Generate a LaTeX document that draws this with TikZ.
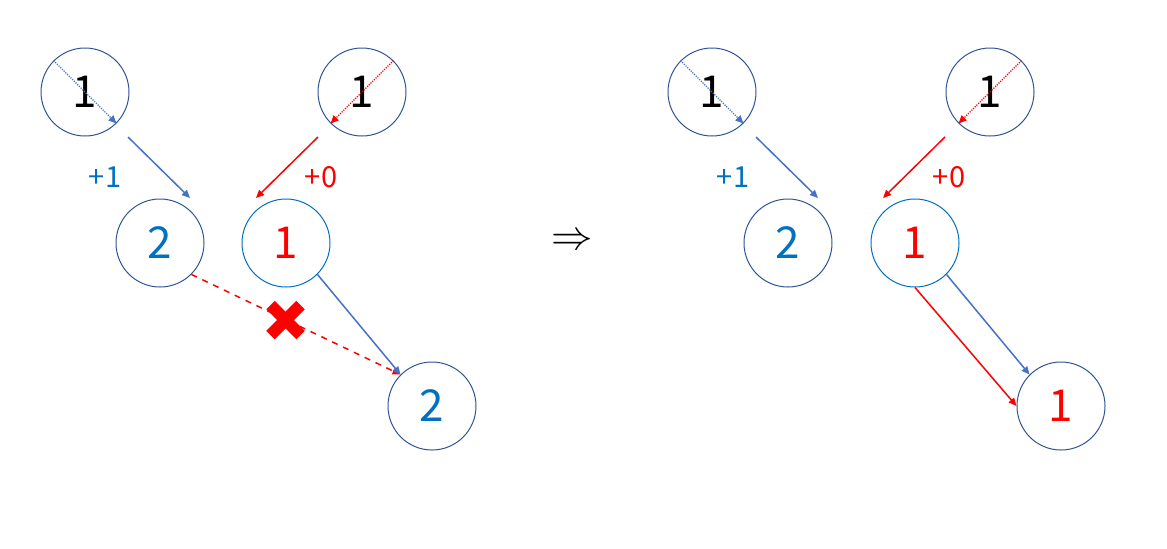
\documentclass[tikz,border=0pt]{standalone}
\usepackage{fontspec}
\setmainfont{Noto Sans CJK JP}
\usetikzlibrary{arrows.meta,calc}
\definecolor{ringblue}{HTML}{2F5597}
\definecolor{lightring}{HTML}{0070C0}
\definecolor{textblue}{HTML}{0070C0}
\definecolor{edgeblue}{HTML}{4472C4}
\definecolor{edgered}{HTML}{FF0000}
\tikzset{
  vertex/.style={circle, draw=ringblue, line width=0.5pt, minimum size=44pt,
    inner sep=0pt, font=\fontsize{22}{22}\selectfont},
  arrowline/.style={line width=0.75pt, -{Triangle[length=4pt,width=3.5pt]}},
  dotline/.style={line width=0.6pt, dash pattern=on 0.6pt off 0.6pt,
    -{Triangle[length=4pt,width=3.5pt]}},
  gain/.style={font=\fontsize{14.5}{14.5}\selectfont}
}
\begin{document}
\begin{tikzpicture}[x=0.5pt,y=-0.5pt]
\useasboundingbox (0,0) rectangle (1167,548);

% left side
\node[vertex] (a1) at (85,92) {1};
\node[vertex] (b1) at (362,92) {1};
\node[vertex, text=textblue] (c2) at (160,243) {2};
\node[vertex, draw=lightring, text=edgered] (d1) at (286,243) {1};
\node[vertex, text=textblue] (e2) at (432,406) {2};

\draw[dotline, edgeblue] (a1.135) -- (a1.-45);
\draw[dotline, edgered] (b1.45) -- (b1.225);

\coordinate (p1) at (128,137);
\coordinate (q1) at (190,198);
\coordinate (p2) at (318,137);
\coordinate (q2) at (256,198);
\draw[arrowline, edgeblue] (p1) -- (q1);
\draw[arrowline, edgered] (p2) -- (q2);
\node[gain, text=textblue] (g1) at (105,177) {+1};
\node[gain, text=edgered] (g2) at (321,177) {+0};

\draw[arrowline, edgered, dashed] (c2.-45) -- (e2.135);
\draw[arrowline, edgeblue] (d1.-45) -- (e2.135);

\coordinate (x) at (285.5,320);
\draw[edgered, line width=6pt] ($(x)+(-15,-15)$) -- ($(x)+(15,15)$);
\draw[edgered, line width=6pt] ($(x)+(-15,15)$) -- ($(x)+(15,-15)$);

\node[font=\fontsize{22}{22}\selectfont] (to) at (572,242) {$\Rightarrow$};

% right side
\node[vertex] (a1r) at (712,92) {1};
\node[vertex] (b1r) at (990,92) {1};
\node[vertex, text=textblue] (c2r) at (788,243) {2};
\node[vertex, draw=lightring, text=edgered] (d1r) at (915,243) {1};
\node[vertex, text=edgered] (e1r) at (1061,406) {1};

\draw[dotline, edgeblue] (a1r.135) -- (a1r.-45);
\draw[dotline, edgered] (b1r.45) -- (b1r.225);

\coordinate (p3) at (756,137);
\coordinate (q3) at (818,198);
\coordinate (p4) at (945,137);
\coordinate (q4) at (883,198);
\draw[arrowline, edgeblue] (p3) -- (q3);
\draw[arrowline, edgered] (p4) -- (q4);
\node[gain, text=textblue] (g3) at (733,177) {+1};
\node[gain, text=edgered] (g4) at (949,177) {+0};

\draw[arrowline, edgeblue] (d1r.-45) -- (e1r.135);
\draw[arrowline, edgered] (d1r.south) -- (e1r.west);
\end{tikzpicture}
\end{document}
